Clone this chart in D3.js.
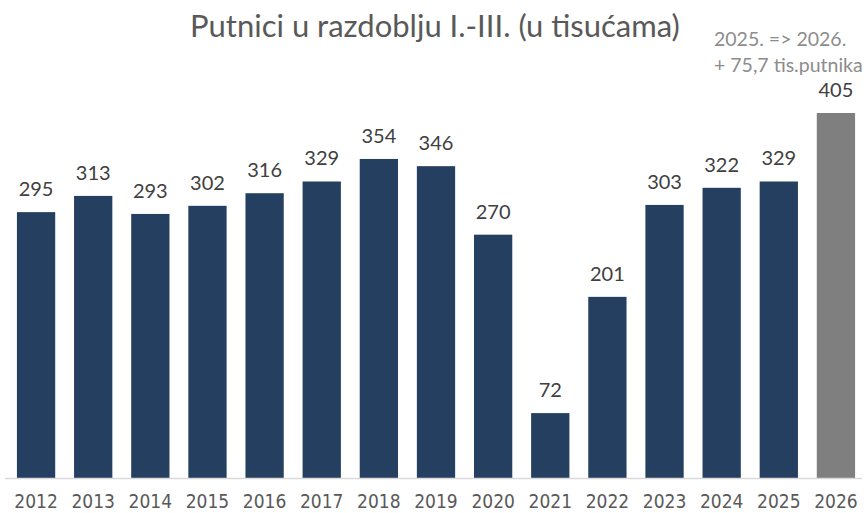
<!DOCTYPE html>
<html><head><meta charset="utf-8">
<script src="https://cdn.jsdelivr.net/npm/d3@7"></script>
<style>body{margin:0;background:#fff}svg{display:block}</style>
</head><body>
<svg id="c" width="867" height="513"></svg>
<script>
const years = ["2012","2013","2014","2015","2016","2017","2018","2019","2020","2021","2022","2023","2024","2025","2026"];
const values = [295,313,293,302,316,329,354,346,270,72,201,303,322,329,405];
const highlightYear = "2026";
const title = "Putnici u razdoblju I.-III. (u tisućama)";
const noteLines = ["2025. => 2026.", "+ 75,7 tis.putnika"];

const svg = d3.select("#c");
const x = d3.scaleBand().domain(years).range([7.5, 864.5]).paddingInner(0.33).paddingOuter(0.165);
const y = d3.scaleLinear().domain([0, 405]).range([478, 113]);

svg.append("text").attr("x", 435).attr("y", 37).attr("text-anchor","middle")
  .attr("font-family","Lato, 'Noto Sans', sans-serif").attr("font-size",31).attr("fill","#595959").text(title);

svg.selectAll("rect.bar").data(years).join("rect").attr("class","bar")
  .attr("x", d => x(d)).attr("width", x.bandwidth())
  .attr("y", (d,i) => y(values[i])).attr("height", (d,i) => y(0) - y(values[i]))
  .attr("fill", d => d === highlightYear ? "#7f7f7f" : "#243f60");

svg.selectAll("text.val").data(years).join("text").attr("class","val")
  .attr("x", d => x(d) + x.bandwidth()/2).attr("y", (d,i) => y(values[i]) - 16)
  .attr("text-anchor","middle").attr("font-family","Lato, 'Noto Sans', sans-serif")
  .attr("font-size",20).attr("fill","#404040").text((d,i) => values[i]);

const ax = svg.append("g").attr("transform","translate(0,478)")
  .call(d3.axisBottom(x).tickSize(0).tickPadding(17));
ax.select(".domain").attr("stroke","#d9d9d9").attr("stroke-width",1.5).attr("d","M5,0.5H862");
ax.selectAll("text").attr("font-family","'Liberation Sans Narrow', 'DejaVu Sans Condensed', sans-serif")
  .attr("font-size",19).attr("fill","#595959");

const note = svg.append("text").attr("font-family","Lato, 'Noto Sans', sans-serif").attr("font-size",19.5).attr("fill","#8c8c8c");
noteLines.forEach((t,i) => note.append("tspan").attr("x", 714).attr("y", 46 + i*26).text(t));
</script>
</body></html>
